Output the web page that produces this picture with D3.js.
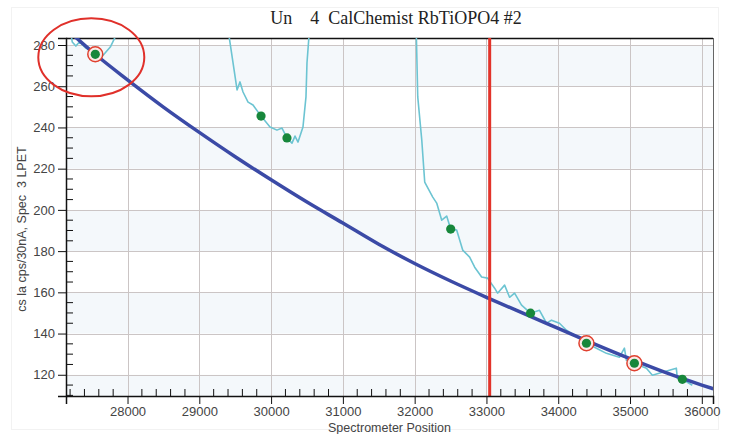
<!DOCTYPE html>
<html>
<head>
<meta charset="utf-8">
<script src="https://cdn.jsdelivr.net/npm/d3@7"></script>
<style>
  body { margin: 0; background: #fff; }
  svg text { font-family: Arial, "Liberation Sans", sans-serif; }
</style>
</head>
<body>
<div id="chart"></div>
<script>
// ---- data ----
var xTicks = [28000, 29000, 30000, 31000, 32000, 33000, 34000, 35000, 36000];
var yTicks = [120, 140, 160, 180, 200, 220, 240, 260, 280];

// background fit (dark blue)
var bgPos = [27250, 27550, 28000, 28500, 29000, 29500, 30000, 30500, 31000, 31500, 32000, 32500, 33000, 33500, 34000, 34500, 35000, 35500, 36000, 36160];
var bgVal = [284.6, 275.5, 263.1, 249.9, 237.6, 225.8, 214.6, 203.8, 193.6, 183.3, 174.0, 165.5, 157.6, 150.0, 142.5, 135.0, 127.8, 121.0, 115.0, 113.2];

// measured spectrum (light cyan), three visible pieces
var spec1Pos = [27190, 27230, 27280, 27330, 27420, 27550, 27660, 27760, 27830, 27880];
var spec1Val = [290, 281.5, 279.5, 281.5, 278.5, 276, 275, 279, 284, 290];

var spec2Pos = [29390, 29470, 29526, 29567, 29609, 29679, 29748, 29860, 29985, 30082, 30152, 30221, 30291, 30333, 30375, 30444, 30486, 30500, 30540];
var spec2Val = [290, 271.3, 258.2, 262.1, 257.2, 252.3, 250.9, 245.5, 240.2, 238.7, 239.7, 234.9, 232.4, 235.8, 232.9, 240.2, 254.8, 271.3, 290];

var spec3Pos = [32020, 32043, 32099, 32140, 32252, 32307, 32377, 32446, 32502, 32585, 32669, 32766, 32836, 32933, 33016, 33114, 33155, 33253, 33322, 33392, 33489, 33614, 33739, 33837, 33906, 34017, 34115, 34226, 34323, 34393, 34532, 34671, 34852, 34922, 34950, 35061, 35228, 35312, 35451, 35645, 35659, 35729, 35868];
var spec3Val = [290, 254.8, 233.9, 213.5, 206.2, 203.3, 195.0, 197.0, 190.7, 190.2, 180.5, 177.1, 172.2, 167.4, 166.9, 162.0, 159.6, 163.5, 157.6, 159.6, 153.8, 149.9, 151.3, 145.0, 146.5, 145.0, 141.6, 139.2, 136.8, 135.3, 132.9, 130.4, 128.5, 132.9, 127.0, 125.6, 123.2, 119.8, 121.2, 123.2, 118.3, 117.8, 114.9];

// peak / background positions (green) and which are ringed
var ptPos = [27551, 29860, 30221, 32502, 33614, 34393, 35061, 35729];
var ptVal = [275.5, 245.5, 234.9, 190.7, 149.9, 135.3, 125.6, 117.8];
var ptRing = [true, false, false, false, false, true, true, false];

var markerPos = 33045;

var titleText = "Un    4  CalChemist RbTiOPO4 #2";
var xLabel = "Spectrometer Position";
var yLabel = "cs la cps/30nA, Spec  3 LPET";

// ---- layout ----
var width = 730, height = 434;
var margin = {top: 38, right: 17, bottom: 38, left: 66};

var svg = d3.select("#chart").append("svg")
    .attr("width", width)
    .attr("height", height);

var x = d3.scaleLinear()
    .domain([27143, 36156])
    .range([margin.left, width - margin.right]);

var y = d3.scaleLinear()
    .domain([109.7, 283.4])
    .range([height - margin.bottom, margin.top]);

// faint picture frame
svg.append("rect")
    .attr("x", 11.5).attr("y", 7.5)
    .attr("width", width - 23).attr("height", height - 12)
    .style("fill", "none")
    .style("stroke", "#f2f2f2");

svg.append("defs").append("clipPath")
    .attr("id", "plotclip")
  .append("rect")
    .attr("x", x.range()[0]).attr("y", y.range()[1])
    .attr("width", x.range()[1] - x.range()[0])
    .attr("height", y.range()[0] - y.range()[1]);

// alternating bands
var bands = [];
for (var v = 100; v < 300; v += 40) bands.push([v, v + 20]);
svg.selectAll(".band")
    .data(bands)
  .enter()
    .append("rect")
    .attr("class", "band")
    .attr("clip-path", "url(#plotclip)")
    .attr("x", x.range()[0])
    .attr("width", x.range()[1] - x.range()[0])
    .attr("y", function(d) { return y(d[1]); })
    .attr("height", function(d) { return y(d[0]) - y(d[1]); })
    .style("fill", "#f4f8fb");

// grid
svg.selectAll(".vgrid")
    .data(xTicks)
  .enter()
    .append("line")
    .attr("x1", function(d) { return Math.round(x(d)) + 0.5; })
    .attr("x2", function(d) { return Math.round(x(d)) + 0.5; })
    .attr("y1", y.range()[1])
    .attr("y2", y.range()[0])
    .style("stroke", "#cbc5c5");

svg.selectAll(".hgrid")
    .data(yTicks)
  .enter()
    .append("line")
    .attr("x1", x.range()[0])
    .attr("x2", x.range()[1])
    .attr("y1", function(d) { return Math.round(y(d)) + 0.5; })
    .attr("y2", function(d) { return Math.round(y(d)) + 0.5; })
    .style("stroke", "#cbc5c5");

// frame top / right
svg.append("line")
    .attr("x1", x.range()[0]).attr("x2", x.range()[1])
    .attr("y1", y.range()[1] + 0.5).attr("y2", y.range()[1] + 0.5)
    .style("stroke", "#111").style("stroke-width", 1.5);
svg.append("line")
    .attr("x1", x.range()[1] + 0.5).attr("x2", x.range()[1] + 0.5)
    .attr("y1", y.range()[1]).attr("y2", y.range()[0])
    .style("stroke", "#666");

var zipped = function(p, v) { return p.map(function(d, i) { return {x: d, y: v[i]}; }); };

var line = d3.line()
    .x(function(d) { return x(d.x); })
    .y(function(d) { return y(d.y); });

var plot = svg.append("g").attr("clip-path", "url(#plotclip)");

[[spec1Pos, spec1Val], [spec2Pos, spec2Val], [spec3Pos, spec3Val]].forEach(function(s) {
  plot.append("path")
      .datum(zipped(s[0], s[1]))
      .attr("d", line)
      .style("fill", "none")
      .style("stroke", "#6cc4d2")
      .style("stroke-width", 1.6)
      .style("stroke-linejoin", "round");
});

plot.append("path")
    .datum(zipped(bgPos, bgVal))
    .attr("d", line.curve(d3.curveMonotoneX))
    .style("fill", "none")
    .style("stroke", "#3b4aa6")
    .style("stroke-width", 3.5);

// marker line
svg.append("line")
    .attr("x1", x(markerPos)).attr("x2", x(markerPos))
    .attr("y1", y.range()[1]).attr("y2", y.range()[0])
    .style("stroke", "#e2332a")
    .style("stroke-width", 3);

var pts = zipped(ptPos, ptVal);
svg.selectAll(".ring")
    .data(pts.filter(function(d, i) { return ptRing[i]; }))
  .enter()
    .append("circle")
    .attr("cx", function(d) { return x(d.x); })
    .attr("cy", function(d) { return y(d.y); })
    .attr("r", 7.5)
    .style("fill", "#fbe9e6")
    .style("stroke", "#e0402f")
    .style("stroke-width", 1.5);

svg.selectAll(".pt")
    .data(pts)
  .enter()
    .append("circle")
    .attr("cx", function(d) { return x(d.x); })
    .attr("cy", function(d) { return y(d.y); })
    .attr("r", 4.6)
    .style("fill", "#17873b");

// axes
var xAxis = d3.axisBottom(x).tickValues(xTicks).tickSize(8).tickPadding(3).tickFormat(d3.format("d"));
var gx = svg.append("g")
    .attr("transform", "translate(0," + y.range()[0] + ")")
    .call(xAxis);
var xMinor = d3.range(27200, 36156, 200).filter(function(d) { return d % 1000 !== 0; });
gx.selectAll(".minor")
    .data(xMinor)
  .enter()
    .append("line")
    .attr("x1", function(d) { return x(d); })
    .attr("x2", function(d) { return x(d); })
    .attr("y1", 0).attr("y2", -7)
    .style("stroke", "#111");

var yAxis = d3.axisLeft(y).tickValues(yTicks).tickSize(8).tickPadding(3);
var gy = svg.append("g")
    .attr("transform", "translate(" + x.range()[0] + ",0)")
    .call(yAxis);
var yMinor = d3.range(110, 284, 5).filter(function(d) { return d % 20 !== 0; });
gy.selectAll(".minor")
    .data(yMinor)
  .enter()
    .append("line")
    .attr("y1", function(d) { return y(d); })
    .attr("y2", function(d) { return y(d); })
    .attr("x1", 0).attr("x2", 7)
    .style("stroke", "#111");

[gx, gy].forEach(function(g) {
  g.select(".domain").style("stroke", "#111").style("stroke-width", 1.5);
  g.selectAll(".tick line").style("stroke", "#111");
  g.selectAll("text")
    .style("font-size", "13px")
    .style("fill", "#444")
    .style("font-family", "Arial, 'Liberation Sans', sans-serif");
});

// big annotation ellipse around first ringed point
svg.append("ellipse")
    .attr("cx", x(ptPos[0]) - 4)
    .attr("cy", y(ptVal[0]) + 3)
    .attr("rx", 53)
    .attr("ry", 39)
    .style("fill", "none")
    .style("stroke", "#e0302a")
    .style("stroke-width", 2);

// texts
svg.append("text")
    .attr("x", 396).attr("y", 24)
    .attr("text-anchor", "middle")
    .style("font-family", "'Liberation Serif', 'Times New Roman', serif")
    .style("font-size", "18px")
    .style("fill", "#222")
    .style("white-space", "pre")
    .text(titleText);

svg.append("text")
    .attr("x", (x.range()[0] + x.range()[1]) / 2)
    .attr("y", 432)
    .attr("text-anchor", "middle")
    .style("font-size", "12.5px")
    .style("fill", "#444")
    .text(xLabel);

svg.append("text")
    .attr("transform", "rotate(-90)")
    .attr("x", -229).attr("y", 26)
    .attr("text-anchor", "middle")
    .style("font-size", "12.5px")
    .style("fill", "#444")
    .style("white-space", "pre")
    .text(yLabel);
</script>
</body>
</html>
